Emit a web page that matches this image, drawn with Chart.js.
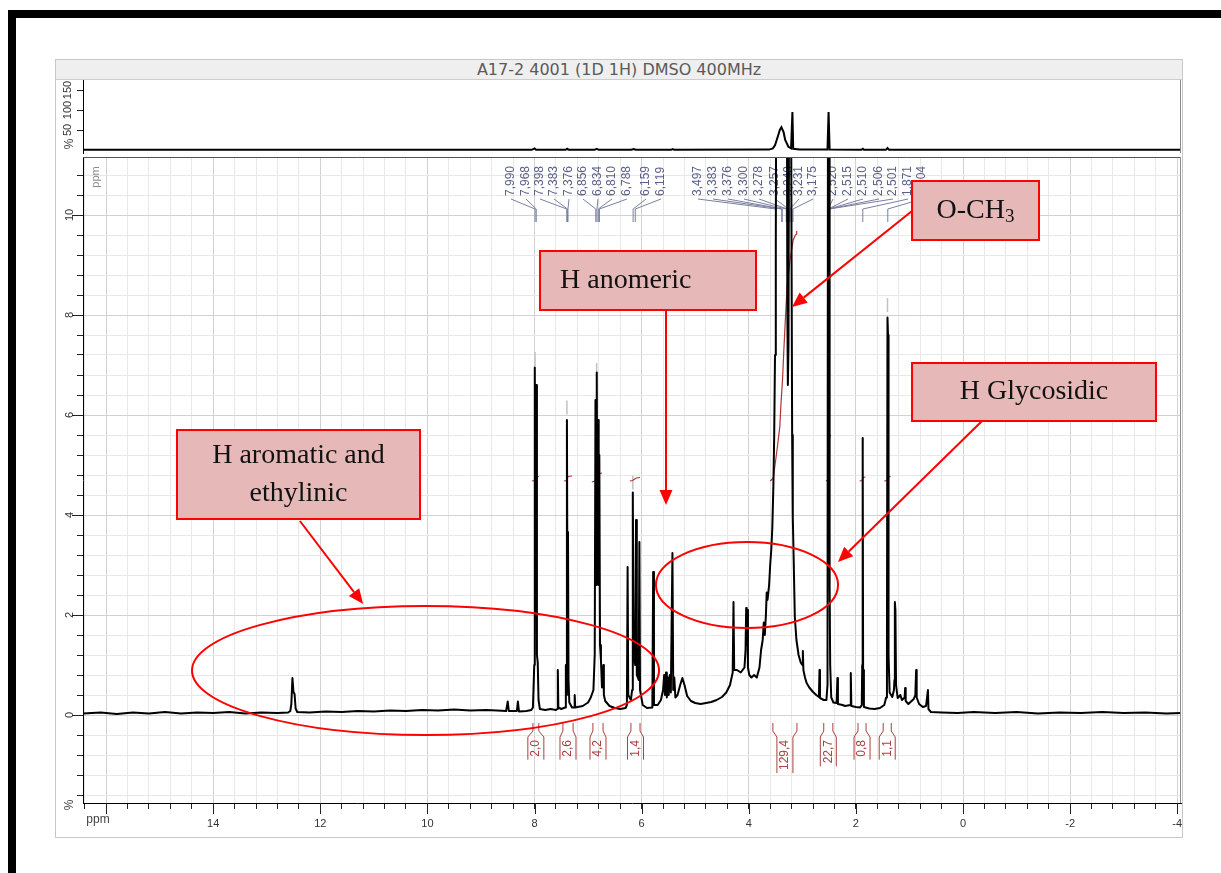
<!DOCTYPE html>
<html>
<head>
<meta charset="utf-8">
<title>A17-2 4001 (1D 1H) DMSO 400MHz</title>
<script src="https://cdn.jsdelivr.net/npm/chart.js@4.4.1/dist/chart.umd.min.js"></script>
<style>
  html, body { margin: 0; padding: 0; background: #fff; }
  #stage { position: relative; width: 1221px; height: 873px; overflow: hidden; }
  #frame { position: absolute; left: 8px; top: 10px; width: 1300px; height: 1000px;
           border-top: 8px solid #000; border-left: 8px solid #000; }
  #panel { position: absolute; left: 55px; top: 59px; width: 1126px; height: 777px; border: 1px solid #c8c8c8; }
  #title { position: absolute; left: 56px; top: 60px; width: 1126px; height: 19px; background: #efefef;
           border-bottom: 1px solid #cdcdcd; font: 16px 'DejaVu Sans', sans-serif; color: #5a5a5a;
           text-align: center; line-height: 19px; }
  canvas { position: absolute; left: 0; top: 0; width: 1221px; height: 873px; }
</style>
</head>
<body>
<div id="stage">
  <div id="frame"></div>
  <div id="panel"></div>
  <canvas id="main" width="1221" height="873"></canvas>
  <canvas id="mini" width="1221" height="873"></canvas>
  <div id="title">A17-2 4001 (1D 1H) DMSO 400MHz</div>
</div>
<script>
// 1H NMR spectrum, A17-2 in DMSO
// ------------------------------------------------------------------------

// axis ticks --------------------------------------------------------------
const xMajorTicks = [16, 14, 12, 10, 8, 6, 4, 2, 0, -2, -4];
const xTickLabels = ['', '14', '12', '10', '8', '6', '4', '2', '0', '-2', '-4'];
const yMajorTicks = [10, 8, 6, 4, 2, 0];
const yTickLabels = ['10', '8', '6', '4', '2', '0'];
const miniTicks = [50, 100, 150];

// spectrum trace [ppm, intensity] ----------------------------------------
const specLeft = [
  [16.43, 0.03], [16.1, 0.05], [15.8, 0.02], [15.5, 0.05], [15.2, 0.03], [14.9, 0.06], [14.6, 0.03],
  [14.3, 0.05], [14.0, 0.04], [13.7, 0.06], [13.4, 0.03], [13.1, 0.05], [12.8, 0.04], [12.6, 0.05],
  [12.56, 0.08], [12.54, 0.22], [12.52, 0.74], [12.50, 0.46], [12.48, 0.42], [12.46, 0.13], [12.43, 0.06],
  [12.2, 0.05], [11.9, 0.07], [11.6, 0.06], [11.3, 0.08], [11.0, 0.07], [10.7, 0.09], [10.4, 0.08],
  [10.1, 0.1], [9.8, 0.09], [9.5, 0.11], [9.2, 0.09], [8.9, 0.1], [8.7, 0.09], [8.53, 0.08], [8.50, 0.27],
  [8.48, 0.08], [8.33, 0.08], [8.31, 0.27], [8.29, 0.07], [8.15, 0.08], [8.06, 0.1]
];
const specAromatic = [
  [8.03, 0.15], [8.005, 1.0], [7.995, 6.95], [7.98, 3.2], [7.968, 6.6], [7.955, 1.2], [7.94, 1.05],
  [7.925, 0.3], [7.9, 0.12], [7.8, 0.1], [7.7, 0.12], [7.6, 0.1], [7.575, 0.12], [7.565, 0.9], [7.555, 0.15],
  [7.5, 0.12], [7.43, 0.15], [7.415, 1.0], [7.405, 0.4], [7.395, 5.9], [7.385, 2.2], [7.375, 3.66],
  [7.365, 0.7], [7.35, 0.25], [7.3, 0.15], [7.26, 0.15], [7.25, 0.4], [7.24, 0.15], [7.1, 0.18],
  [7.0, 0.25], [6.95, 0.35], [6.9, 0.5], [6.876, 1.2], [6.862, 6.3], [6.85, 2.6], [6.838, 6.85],
  [6.826, 3.1], [6.814, 5.9], [6.802, 2.6], [6.79, 5.2], [6.777, 1.4], [6.76, 1.1], [6.74, 0.55],
  [6.715, 1.0], [6.705, 0.4], [6.68, 0.28], [6.6, 0.18], [6.5, 0.14], [6.4, 0.12], [6.3, 0.14],
  [6.275, 0.2], [6.262, 2.96], [6.25, 0.4], [6.2, 0.3], [6.178, 0.5], [6.165, 4.45], [6.15, 1.2],
  [6.12, 1.0], [6.105, 3.9], [6.09, 0.8], [6.055, 0.7], [6.042, 3.46], [6.03, 0.5], [5.98, 0.2], [5.9, 0.14]
];
const specSugar = [
  [5.8, 0.15], [5.785, 2.86], [5.77, 0.2], [5.7, 0.2], [5.64, 0.3], [5.6, 0.5], [5.58, 0.8], [5.565, 0.4],
  [5.545, 0.85], [5.53, 0.35], [5.51, 0.75], [5.495, 0.4], [5.475, 0.8], [5.455, 0.45], [5.425, 3.24],
  [5.41, 0.5], [5.39, 0.75], [5.37, 0.35], [5.33, 0.4], [5.28, 0.6], [5.24, 0.74], [5.2, 0.6], [5.15, 0.38],
  [5.08, 0.28], [5.0, 0.24], [4.9, 0.22], [4.8, 0.24], [4.7, 0.26], [4.6, 0.3], [4.5, 0.36], [4.42, 0.45],
  [4.35, 0.6], [4.3, 0.85], [4.285, 2.26], [4.272, 0.9], [4.22, 0.9], [4.15, 0.85], [4.08, 0.95],
  [4.06, 1.3], [4.048, 2.14], [4.038, 1.4], [4.028, 2.1], [4.015, 0.95], [3.99, 0.8], [3.95, 0.75],
  [3.9, 0.8], [3.85, 0.75], [3.8, 0.95], [3.77, 1.3], [3.74, 1.5], [3.72, 1.85], [3.7, 1.6], [3.68, 2.0],
  [3.665, 2.45], [3.65, 2.3], [3.62, 2.6], [3.6, 3.0], [3.58, 3.3], [3.56, 3.75], [3.54, 4.6],
  [3.525, 5.6], [3.51, 7.2], [3.495, 9.5], [3.485, 14], [3.29, 14], [3.28, 8.2], [3.27, 6.6],
  [3.258, 7.4], [3.245, 14], [3.215, 14], [3.19, 5.6], [3.178, 3.96], [3.165, 3.3], [3.14, 1.96],
  [3.11, 1.5], [3.07, 1.2], [3.03, 1.05], [3.0, 1.0], [2.99, 1.28], [2.98, 0.9], [2.95, 0.75],
  [2.92, 0.64], [2.87, 0.55], [2.8, 0.46], [2.74, 0.4], [2.69, 0.36], [2.68, 0.9], [2.67, 0.34],
  [2.6, 0.3], [2.55, 0.3], [2.53, 0.6], [2.52, 14], [2.497, 14], [2.49, 2.56], [2.48, 1.0], [2.46, 0.35],
  [2.42, 0.25]
];
const specAliphatic = [
  [2.36, 0.24], [2.345, 0.74], [2.335, 0.22], [2.25, 0.2], [2.2, 0.18], [2.105, 0.2], [2.095, 0.84],
  [2.085, 0.18], [2.0, 0.16], [1.92, 0.15], [1.89, 0.2], [1.882, 1.0], [1.873, 5.54], [1.865, 0.9],
  [1.85, 0.16], [1.75, 0.13], [1.65, 0.12], [1.55, 0.14], [1.47, 0.2], [1.435, 0.35], [1.42, 1.2],
  [1.41, 7.95], [1.40, 7.6], [1.39, 1.2], [1.37, 0.45], [1.32, 0.36], [1.29, 0.5], [1.28, 0.7],
  [1.272, 2.26], [1.262, 2.1], [1.25, 0.6], [1.22, 0.34], [1.17, 0.4], [1.14, 0.3], [1.09, 0.35],
  [1.08, 0.54], [1.07, 0.28], [1.02, 0.22], [0.96, 0.28], [0.92, 0.32], [0.89, 0.4], [0.875, 0.9],
  [0.865, 0.35], [0.82, 0.22], [0.75, 0.16], [0.69, 0.18], [0.655, 0.5], [0.645, 0.12], [0.6, 0.06],
  [0.4, 0.05], [0.1, 0.04], [-0.2, 0.06], [-0.6, 0.04], [-1.0, 0.06], [-1.4, 0.03], [-1.8, 0.05],
  [-2.2, 0.04], [-2.6, 0.06], [-3.0, 0.04], [-3.4, 0.05], [-3.8, 0.03], [-4.07, 0.04]
];

// overview trace (top strip), intensity in % ------------------------------
const miniSpectrum = [
  [16.43, 0.5], [8.05, 0.5], [8.0, 4], [7.97, 0.5], [7.42, 0.5], [7.39, 3], [7.36, 0.5], [6.88, 0.5],
  [6.84, 3], [6.8, 0.5], [6.19, 0.5], [6.15, 2.5], [6.11, 0.5], [5.45, 0.5], [5.42, 2.5], [5.39, 0.5],
  [3.62, 1], [3.55, 4], [3.51, 12], [3.45, 37], [3.42, 50], [3.39, 57], [3.35, 45], [3.32, 25],
  [3.26, 8], [3.21, 4], [3.185, 95], [3.17, 3], [3.05, 1], [2.53, 1], [2.51, 95], [2.49, 1],
  [1.9, 0.5], [1.87, 3], [1.85, 0.5], [1.44, 0.5], [1.41, 5], [1.38, 0.5], [-4.07, 0.5]
];

// integral curves [ppm, level] -------------------------------------------
const integralCurves = [
  [[8.05, 4.68], [7.995, 4.69], [7.975, 4.76], [7.92, 4.77]],
  [[7.45, 4.68], [7.40, 4.69], [7.375, 4.77], [7.30, 4.78]],
  [[6.93, 4.66], [6.87, 4.68], [6.80, 4.82], [6.74, 4.84]],
  [[6.22, 4.68], [6.17, 4.69], [6.10, 4.74], [6.03, 4.75]],
  [[3.60, 4.68], [3.56, 4.72], [3.54, 4.75], [3.51, 5.0], [3.48, 5.24], [3.45, 5.5], [3.42, 5.77],
   [3.40, 6.2], [3.37, 6.7], [3.345, 7.3], [3.32, 7.84], [3.30, 8.25], [3.28, 8.64], [3.25, 8.9],
   [3.23, 9.1], [3.20, 9.3], [3.17, 9.5], [3.13, 9.6], [3.11, 9.62], [3.105, 9.68]],
  [[2.56, 4.68], [2.52, 4.70], [2.505, 5.35], [2.49, 5.56], [2.47, 5.6]],
  [[1.93, 4.68], [1.885, 4.69], [1.865, 4.75], [1.82, 4.76]],
  [[1.47, 4.68], [1.42, 4.69], [1.40, 4.76], [1.35, 4.77]]
];
const intRanges = [[8.03, 7.92], [7.47, 7.28], [6.91, 6.72], [6.20, 6.03], [3.55, 3.10], [2.60, 2.43], [1.96, 1.81], [1.49, 1.34]];
const intLabels = ['2,0', '2,6', '4,2', '1,4', '129,4', '22,7', '0,8', '1,1'];

// peak picking -------------------------------------------------------------
const peakLabelsA = ['7,990', '7,968', '7,398', '7,383', '7,376', '6,856', '6,834', '6,810', '6,788', '6,159', '6,119'];
const peakLabelsB = ['3,497', '3,383', '3,376', '3,300', '3,278', '3,257', '3,248', '3,231', '3,175',
                     '2,520', '2,515', '2,510', '2,506', '2,501', '1,871', '1,404'];
const markerPpm = [7.99, 7.395, 6.84, 6.165, 1.873, 1.41];
const markerLevel = [7.12, 6.15, 6.9, 4.65, 5.42, 8.2];

// layout of the peak label columns (pixels)
const labelColsA = [511, 526, 540, 554, 569, 583, 598, 612, 627, 646, 661];
const labelColsB = [698, 713, 728, 744, 759, 775, 789, 799, 813, 833, 848, 863, 879, 893, 908, 922];

// annotation boxes: [ppm left, value top, ppm right, value bottom]
const notes = [
  { lines: ['H aromatic and', 'ethylinic'], box: [14.675, 5.70, 10.138, 3.92], align: 'center' },
  { lines: ['H anomeric'], box: [7.898, 9.28, 3.865, 8.10], align: 'left', inset: 20 },
  { lines: ['O-CH'], sub: '3', box: [0.952, 10.68, -1.419, 9.50], align: 'center' },
  { lines: ['H Glycosidic'], box: [0.952, 7.04, -3.603, 5.88], align: 'center' }
];
const ellipses = [
  { c: [10.035, 0.89], r: [4.36, 1.29] },
  { c: [4.033, 2.6], r: [1.70, 0.86] }
];
const arrows = [
  [[12.38, 3.88], [11.20, 2.22]],
  [[5.545, 8.10], [5.545, 4.20]],
  [[0.952, 10.08], [3.193, 8.16]],
  [[-0.355, 5.88], [2.334, 3.06]]
];

// -------------------------------------------------------------------------
// helpers
// -------------------------------------------------------------------------
const toXY = (pts) => pts.map((p) => ({ x: p[0], y: p[1] }));
const near = (a, b) => Math.abs(a - b) < 1e-6;
const SANS = "'Liberation Sans', Arial, sans-serif";

function vText(ctx, text, x, y, align) {
  ctx.save();
  ctx.translate(x, y);
  ctx.rotate(-Math.PI / 2);
  ctx.textAlign = align || 'center';
  ctx.textBaseline = 'middle';
  ctx.fillText(text, 0, 0);
  ctx.restore();
}

function arrow(ctx, x1, y1, x2, y2) {
  const a = Math.atan2(y2 - y1, x2 - x1);
  const L = 15, W = 6.5;
  const bx = x2 - L * Math.cos(a), by = y2 - L * Math.sin(a);
  ctx.beginPath();
  ctx.moveTo(x1, y1);
  ctx.lineTo(bx, by);
  ctx.stroke();
  ctx.beginPath();
  ctx.moveTo(x2, y2);
  ctx.lineTo(bx + W * Math.sin(a), by - W * Math.cos(a));
  ctx.lineTo(bx - W * Math.sin(a), by + W * Math.cos(a));
  ctx.closePath();
  ctx.fill();
}

// -------------------------------------------------------------------------
// overlay for the main plot: peak labels, integrals, frame, annotations
// -------------------------------------------------------------------------
const mainOverlay = {
  id: 'mainOverlay',
  beforeDatasetsDraw(chart) {
    const { ctx, scales: { x, y } } = chart;
    ctx.save();

    // peak pick labels + leaders
    ctx.font = '12px ' + SANS;
    ctx.fillStyle = '#5b6089';
    ctx.strokeStyle = '#7a7fa0';
    ctx.lineWidth = 1;
    [[peakLabelsA, labelColsA], [peakLabelsB, labelColsB]].forEach(([labels, cols]) => {
      labels.forEach((t, i) => {
        const lx = cols[i];
        const pp = x.getPixelForValue(parseFloat(t.replace(',', '.')));
        vText(ctx, t, lx, 196, 'left');
        ctx.beginPath();
        ctx.moveTo(lx, 199);
        ctx.lineTo(pp, 209);
        ctx.lineTo(pp, 222);
        ctx.stroke();
      });
    });

    // integral brackets
    ctx.strokeStyle = '#a8403f';
    ctx.fillStyle = '#a8403f';
    ctx.font = '12px ' + SANS;
    const y0 = y.getPixelForValue(-0.16), y1 = y.getPixelForValue(-0.32), y2 = y.getPixelForValue(-0.44);
    intRanges.forEach((r, i) => {
      const xa = x.getPixelForValue(r[0]), xb = x.getPixelForValue(r[1]);
      const c = (xa + xb) / 2, h = 8;
      const w = ctx.measureText(intLabels[i]).width;
      const y3 = y2 + w + 6;
      ctx.beginPath();
      ctx.moveTo(xa, y0); ctx.lineTo(xa, y1); ctx.lineTo(c - h, y2); ctx.lineTo(c - h, y3);
      ctx.moveTo(xb, y0); ctx.lineTo(xb, y1); ctx.lineTo(c + h, y2); ctx.lineTo(c + h, y3);
      ctx.stroke();
      vText(ctx, intLabels[i], c, y2 + 3 + w / 2);
    });
    ctx.restore();
  },
  afterDraw(chart) {
    const { ctx, chartArea: a, scales: { x, y } } = chart;
    ctx.save();

    // plot frame (top / right)
    ctx.lineWidth = 1;
    ctx.strokeStyle = '#555';
    ctx.beginPath(); ctx.moveTo(a.left, a.top + 0.5); ctx.lineTo(a.right, a.top + 0.5); ctx.stroke();
    ctx.strokeStyle = '#8a8a8a';
    ctx.beginPath(); ctx.moveTo(a.right - 0.5, a.top); ctx.lineTo(a.right - 0.5, a.bottom); ctx.stroke();

    // longer major ticks
    ctx.strokeStyle = '#222';
    xMajorTicks.forEach((v) => {
      const p = Math.round(x.getPixelForValue(v)) + 0.5;
      ctx.beginPath(); ctx.moveTo(p, a.bottom); ctx.lineTo(p, a.bottom + 11); ctx.stroke();
    });
    yMajorTicks.forEach((v) => {
      const p = Math.round(y.getPixelForValue(v)) + 0.5;
      ctx.beginPath(); ctx.moveTo(a.left - 11, p); ctx.lineTo(a.left, p); ctx.stroke();
    });

    // unit labels
    ctx.fillStyle = '#444';
    ctx.font = '12px ' + SANS;
    ctx.textAlign = 'center';
    ctx.textBaseline = 'middle';
    ctx.fillText('ppm', a.left + 15, a.bottom + 17);
    vText(ctx, '%', a.left - 13, a.bottom + 2);
    ctx.fillStyle = '#8a8a8a';
    ctx.font = '11px ' + SANS;
    vText(ctx, 'ppm', a.left + 13, a.top + 20);

    // annotation ellipses and arrows
    ctx.strokeStyle = '#ff0000';
    ctx.fillStyle = '#ff0000';
    ctx.lineWidth = 2;
    ellipses.forEach((e) => {
      const cx = x.getPixelForValue(e.c[0]), cy = y.getPixelForValue(e.c[1]);
      const rx = Math.abs(x.getPixelForValue(e.c[0] + e.r[0]) - cx);
      const ry = Math.abs(y.getPixelForValue(e.c[1] + e.r[1]) - cy);
      ctx.beginPath();
      ctx.ellipse(cx, cy, rx, ry, 0, 0, Math.PI * 2);
      ctx.stroke();
    });
    arrows.forEach((ar) => {
      arrow(ctx, x.getPixelForValue(ar[0][0]), y.getPixelForValue(ar[0][1]),
        x.getPixelForValue(ar[1][0]), y.getPixelForValue(ar[1][1]));
    });

    // annotation boxes
    notes.forEach((n) => {
      const x1 = x.getPixelForValue(n.box[0]), y1 = y.getPixelForValue(n.box[1]);
      const x2 = x.getPixelForValue(n.box[2]), y2 = y.getPixelForValue(n.box[3]);
      ctx.fillStyle = '#e6b9b8';
      ctx.fillRect(x1, y1, x2 - x1, y2 - y1);
      ctx.strokeStyle = '#ff0000';
      ctx.lineWidth = 2;
      ctx.strokeRect(x1, y1, x2 - x1, y2 - y1);
      ctx.fillStyle = '#111';
      ctx.textBaseline = 'middle';
      const cy = (y1 + y2) / 2, lh = 38;
      n.lines.forEach((t, i) => {
        const ty = cy + (i - (n.lines.length - 1) / 2) * lh;
        ctx.font = "28px 'Liberation Serif', 'Times New Roman', serif";
        if (n.sub) {
          const w1 = ctx.measureText(t).width;
          ctx.font = "19px 'Liberation Serif', 'Times New Roman', serif";
          const w2 = ctx.measureText(n.sub).width;
          const sx = (x1 + x2) / 2 - (w1 + w2) / 2;
          ctx.textAlign = 'left';
          ctx.fillText(n.sub, sx + w1, ty + 7);
          ctx.font = "28px 'Liberation Serif', 'Times New Roman', serif";
          ctx.fillText(t, sx, ty);
        } else if (n.align === 'left') {
          ctx.textAlign = 'left';
          ctx.fillText(t, x1 + n.inset, ty);
        } else {
          ctx.textAlign = 'center';
          ctx.fillText(t, (x1 + x2) / 2, ty);
        }
      });
    });
    ctx.restore();
  }
};

const miniOverlay = {
  id: 'miniOverlay',
  afterDraw(chart) {
    const { ctx, chartArea: a } = chart;
    ctx.save();
    ctx.strokeStyle = '#8a8a8a';
    ctx.lineWidth = 1;
    ctx.beginPath(); ctx.moveTo(a.right - 0.5, a.top); ctx.lineTo(a.right - 0.5, a.bottom); ctx.stroke();
    ctx.fillStyle = '#444';
    ctx.font = '12px ' + SANS;
    vText(ctx, '%', a.left - 13, a.bottom - 9);
    ctx.restore();
  }
};

// -------------------------------------------------------------------------
// charts
// -------------------------------------------------------------------------
const tickFont = { family: SANS, size: 11 };

new Chart(document.getElementById('main'), {
  type: 'line',
  data: {
    datasets: [
      {
        data: toXY([].concat(specLeft, specAromatic, specSugar, specAliphatic)),
        borderColor: '#000', borderWidth: 2, pointRadius: 0, borderJoinStyle: 'round', tension: 0
      },
      ...integralCurves.map((c) => ({
        data: toXY(c), borderColor: '#b03434', borderWidth: 1.2, pointRadius: 0, tension: 0
      })),
      {
        type: 'scatter',
        data: markerPpm.map((p, i) => ({ x: p, y: markerLevel[i] })),
        pointStyle: 'line', rotation: 90, radius: 7, borderColor: '#c2c2c2', borderWidth: 1.5
      }
    ]
  },
  options: {
    responsive: false,
    animation: false,
    devicePixelRatio: 1,
    layout: { padding: { left: 53, top: 157, right: 40, bottom: 30 } },
    plugins: { legend: { display: false }, tooltip: { enabled: false } },
    scales: {
      x: {
        type: 'linear', reverse: true, min: -4.07, max: 16.43,
        ticks: {
          stepSize: 0.4, includeBounds: false, autoSkip: false, maxRotation: 0,
          font: tickFont, color: '#333', padding: 8,
          callback: (v) => {
            const i = xMajorTicks.findIndex((m) => near(m, v));
            return i < 0 ? '' : xTickLabels[i];
          }
        },
        grid: {
          color: (c) => (c.tick && xMajorTicks.some((m) => near(m, c.tick.value)) ? '#d2d2d2' : '#e8e8e8'),
          tickColor: '#222', tickLength: 6
        },
        border: { color: '#000', width: 1 },
        afterFit: (s) => { s.height = 40; }
      },
      y: {
        type: 'linear', min: -1.76, max: 11.16,
        ticks: {
          stepSize: 0.4, includeBounds: false, autoSkip: false, minRotation: 90, maxRotation: 90,
          crossAlign: 'center', font: tickFont, color: '#333', padding: 1,
          callback: (v) => {
            const i = yMajorTicks.findIndex((m) => near(m, v));
            return i < 0 ? '' : yTickLabels[i];
          }
        },
        grid: {
          color: (c) => (c.tick && yMajorTicks.some((m) => near(m, c.tick.value)) ? '#d2d2d2' : '#e8e8e8'),
          tickColor: '#222', tickLength: 6
        },
        border: { color: '#000', width: 1 },
        afterFit: (s) => { s.width = 30; }
      }
    }
  },
  plugins: [mainOverlay]
});

new Chart(document.getElementById('mini'), {
  type: 'line',
  data: {
    datasets: [{
      data: toXY(miniSpectrum), borderColor: '#000', borderWidth: 2, pointRadius: 0, tension: 0
    }]
  },
  options: {
    responsive: false,
    animation: false,
    devicePixelRatio: 1,
    layout: { padding: { left: 53, top: 79, right: 40, bottom: 720 } },
    plugins: { legend: { display: false }, tooltip: { enabled: false } },
    scales: {
      x: { type: 'linear', reverse: true, min: -4.07, max: 16.43, display: false },
      y: {
        type: 'linear', min: -7.5, max: 177.5,
        afterBuildTicks: (s) => { s.ticks = miniTicks.map((v) => ({ value: v })); },
        ticks: {
          minRotation: 90, maxRotation: 90, crossAlign: 'center', autoSkip: false,
          font: tickFont, color: '#333', padding: 0
        },
        grid: { drawOnChartArea: false, tickColor: '#222', tickLength: 6 },
        border: { color: '#000', width: 1 },
        afterFit: (s) => { s.width = 30; }
      }
    }
  },
  plugins: [miniOverlay]
});
</script>
</body>
</html>
